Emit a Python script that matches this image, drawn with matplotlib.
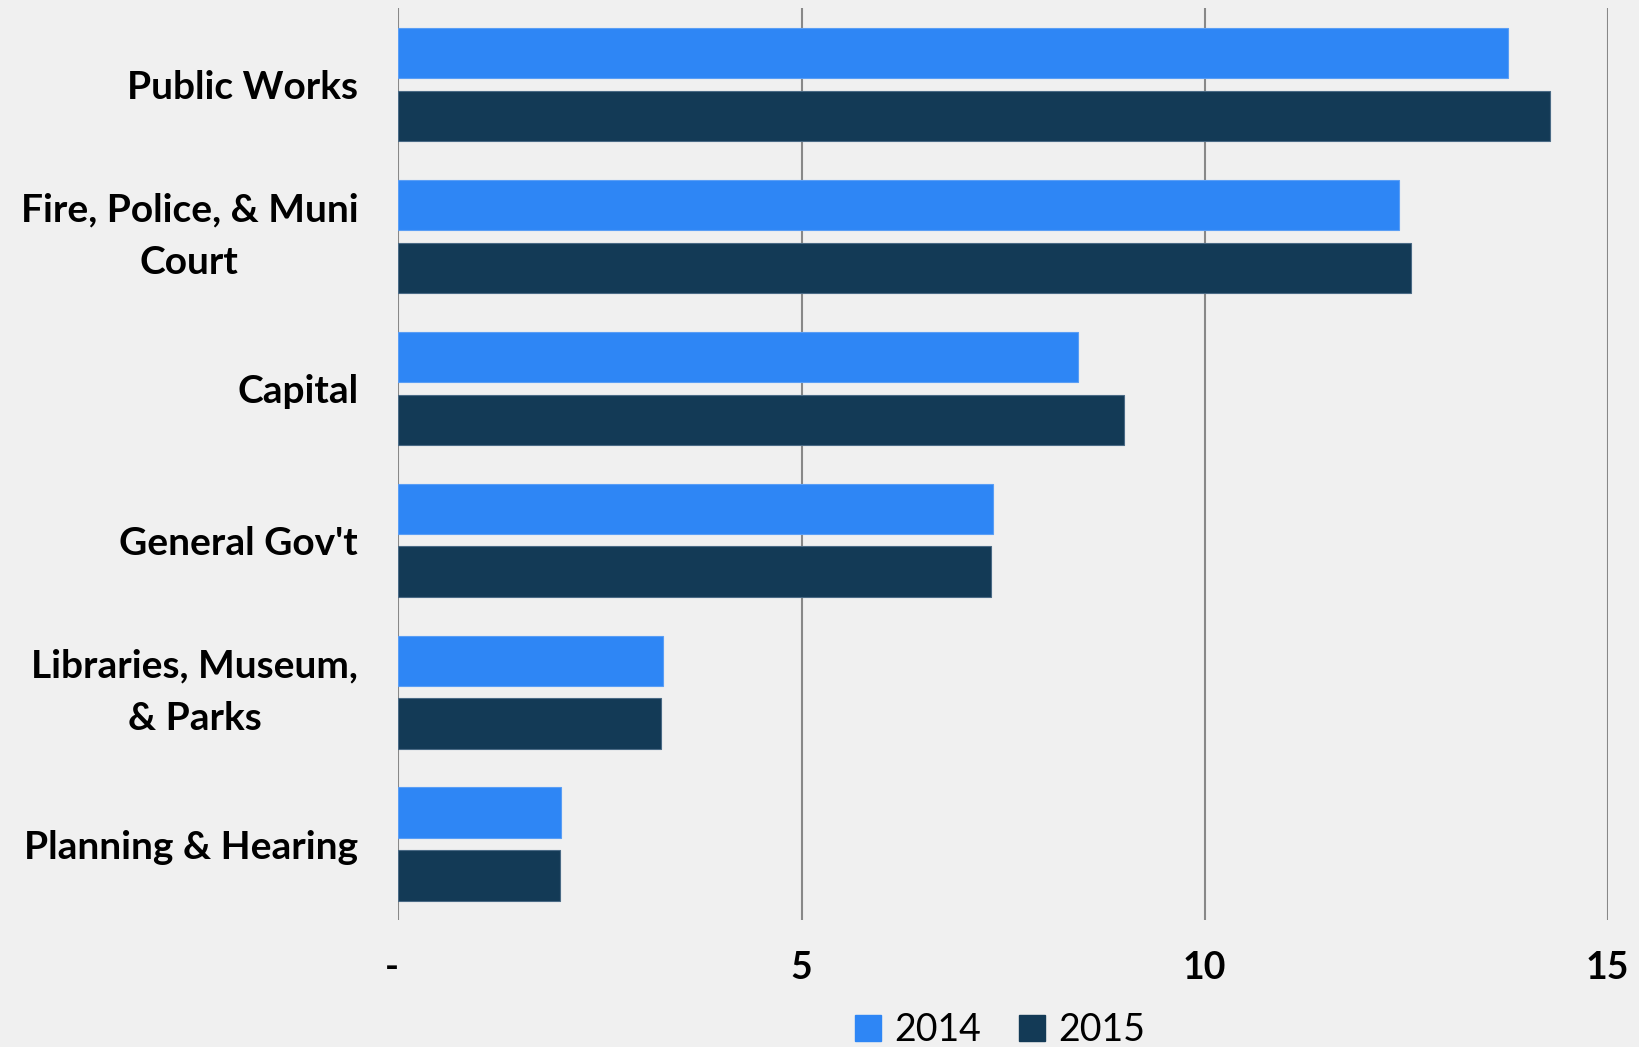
"""Horizontal grouped bars: 2014 vs 2015 by department."""

import matplotlib.pyplot as plt
import numpy as np
from matplotlib.patches import Patch

BG = "#F0F0F0"
C2014 = "#2E86F5"
C2015 = "#133A56"
GRID = "#888888"

categories = [
    "Public Works",
    "Fire, Police, & Muni\nCourt",
    "Capital",
    "General Gov't",
    "Libraries, Museum,\n& Parks",
    "Planning & Hearing",
]
values_2014 = [13.76, 12.41, 8.43, 7.38, 3.28, 2.02]
values_2015 = [14.29, 12.56, 9.00, 7.35, 3.26, 2.00]
xticks = [0, 5, 10, 15]
xtick_labels = ["-", "5", "10", "15"]

plt.rcParams["font.family"] = ["Lato", "DejaVu Sans"]

fig = plt.figure(figsize=(16.4, 10.47), dpi=100, facecolor=BG)
ax = fig.add_axes([398.5 / 1640, 1 - 920 / 1047, (1607.6 - 398.5) / 1640, (920 - 8.4) / 1047])
ax.set_facecolor(BG)

y = np.arange(len(categories))
h = 0.331
off = 0.207
ax.barh(y - off, values_2014, height=h, color=C2014, edgecolor="#5A9EF5", linewidth=0.8, zorder=3)
ax.barh(y + off, values_2015, height=h, color=C2015, edgecolor="#4A6A85", linewidth=0.8, zorder=3)

ax.set_xlim(0, 15)
ax.set_ylim(len(categories) - 0.5, -0.5)
ax.set_xticks(xticks)
ax.set_xticklabels(xtick_labels, fontsize=27, fontweight="bold")
ax.set_yticks(y)
ax.set_yticklabels(categories, fontsize=28, fontweight="bold", multialignment="center", linespacing=1.6)
for lab in ax.get_yticklabels():
    if "\n" in lab.get_text():
        lab.set_verticalalignment("center")
ax.tick_params(axis="both", length=0)
ax.tick_params(axis="y", pad=29)
ax.tick_params(axis="x", pad=22)
ax.xaxis.grid(True, color=GRID, linewidth=1.5, zorder=0)
for s in ax.spines.values():
    s.set_visible(False)
# the "-" label sits a little left of the zero line, as in accounting format
ax.get_xticklabels()[0].set_horizontalalignment("right")

handles = [Patch(color=C2014, label="2014"), Patch(color=C2015, label="2015")]
fig.legend(
    handles=handles,
    loc="center",
    bbox_to_anchor=(1000 / 1640, 1 - 1030 / 1047),
    ncol=2,
    frameon=False,
    fontsize=27,
    handlelength=0.7,
    handleheight=0.7,
    handletextpad=0.35,
    columnspacing=1.0,
)

fig.savefig("out.png", dpi=100, facecolor=BG)
